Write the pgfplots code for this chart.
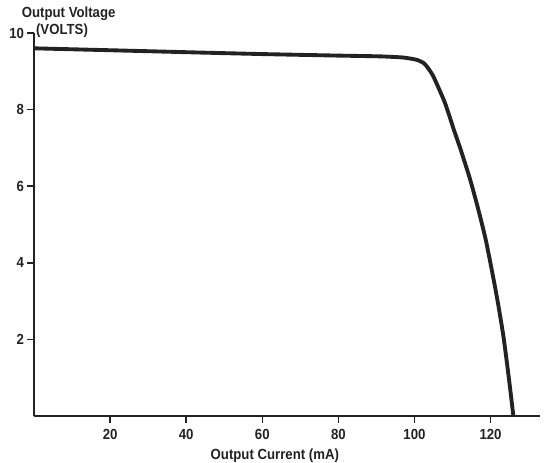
\documentclass[border=0pt]{standalone}
\usepackage{pgfplots}
\pgfplotsset{compat=1.18}
\usepackage{fontspec}
\setmainfont{Liberation Sans}[FakeStretch=0.9]
\definecolor{ink}{HTML}{222222}
\begin{document}
\begin{tikzpicture}
\useasboundingbox (-25.5pt,-34.5pt) rectangle (385.5pt,312pt);
\begin{axis}[
  scale only axis,
  width=379.5pt, height=287.25pt,
  xmin=0, xmax=133, ymin=0, ymax=10,
  axis x line=bottom, axis y line=left,
  axis line style={-, ink, line width=1.6pt},
  xtick={20,40,60,80,100,120},
  ytick={2,4,6,8,10},
  tick align=outside,
  major tick length=5pt,
  tick style={ink, line width=1.1pt},
  ticklabel style={font=\bfseries\fontsize{11}{13}\selectfont, text=ink},
  /pgf/number format/assume math mode=true,
  xticklabel style={yshift=-1.5pt},
  yticklabel style={xshift=1pt},
  xlabel={\bfseries Output Current (mA)},
  xlabel style={font=\fontsize{11}{13}\selectfont, text=ink, at={(axis description cs:0.476,0)}, anchor=north, yshift=-21pt},
  clip=false,
]
\addplot[ink, line width=2.9pt, line join=round, smooth, tension=0.35] coordinates {
(0,9.60) (20,9.55) (43.5,9.49) (60,9.45) (80,9.41) (91,9.39) (97,9.36)
(100.6,9.30) (102.5,9.21) (103.6,9.08) (105,8.86) (108,8.18) (110.4,7.46)
(112,7.00) (114.5,6.22) (116.5,5.50) (118.7,4.62) (120.7,3.62) (122,2.92)
(123.4,2.07) (124.8,1.00) (126,0)
};
\end{axis}
\node[font=\bfseries\fontsize{11}{13}\selectfont, text=ink] at (26pt,302pt) {Output Voltage};
\node[font=\bfseries\fontsize{11}{13}\selectfont, text=ink] at (21pt,289pt) {(VOLTS)};
\end{tikzpicture}
\end{document}
